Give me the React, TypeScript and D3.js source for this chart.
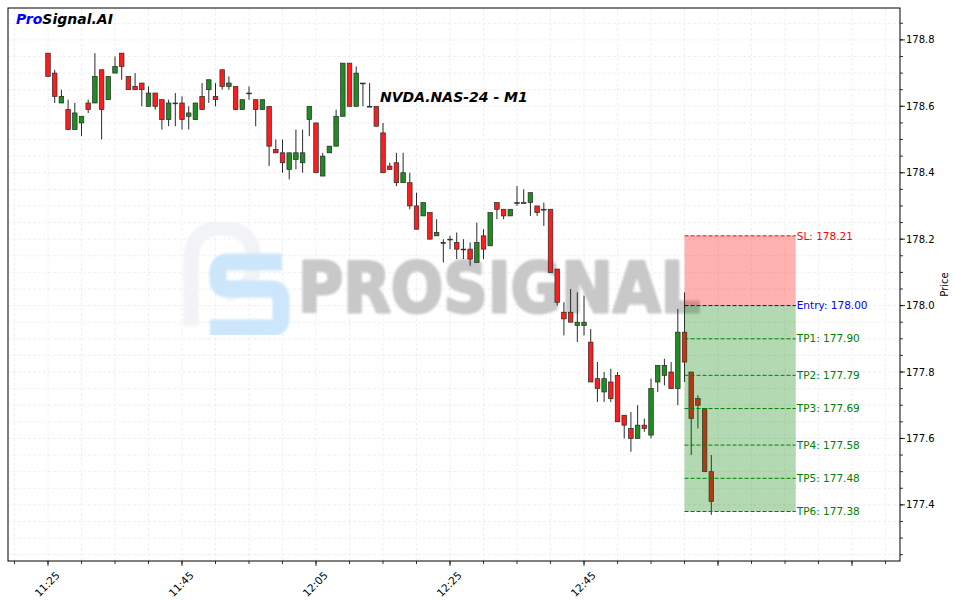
import React from "react";
import * as d3 from "d3";

const W = 956;
const H = 603;

// OHLC per minute starting 11:25
const opens = [178.76,178.70,178.61,178.59,178.53,178.55,178.61,178.61,178.71,178.62,178.70,178.76,178.69,178.66,178.67,178.60,178.64,178.62,178.56,178.61,178.61,178.57,178.56,178.63,178.65,178.63,178.71,178.66,178.66,178.59,178.64,178.62,178.59,178.60,178.47,178.46,178.41,178.44,178.43,178.56,178.55,178.39,178.46,178.48,178.57,178.73,178.60,178.67,178.60,178.60,178.52,178.42,178.43,178.37,178.37,178.30,178.27,178.28,178.21,178.19,178.20,178.19,178.17,178.17,178.13,178.21,178.18,178.31,178.29,178.27,178.31,178.31,178.31,178.30,178.29,178.29,178.11,177.98,177.98,177.94,177.94,177.89,177.78,177.74,177.77,177.79,177.67,177.63,177.60,177.64,177.61,177.77,177.79,177.80,177.75,177.92,177.80,177.72,177.69,177.50];
const highs = [178.76,178.71,178.65,178.62,178.61,178.57,178.62,178.76,178.71,178.69,178.75,178.76,178.69,178.70,178.67,178.66,178.64,178.62,178.62,178.64,178.63,178.60,178.61,178.67,178.68,178.67,178.71,178.69,178.66,178.62,178.66,178.62,178.62,178.60,178.50,178.50,178.46,178.53,178.53,178.60,178.55,178.46,178.48,178.59,178.73,178.73,178.72,178.67,178.67,178.60,178.55,178.43,178.46,178.46,178.40,178.34,178.31,178.28,178.26,178.20,178.21,178.22,178.20,178.19,178.25,178.23,178.28,178.31,178.29,178.29,178.36,178.35,178.34,178.30,178.31,178.29,178.11,178.01,178.05,178.04,178.03,177.93,177.83,177.80,177.81,177.80,177.67,177.68,177.70,177.66,177.78,177.82,177.84,177.83,177.99,178.04,177.80,177.73,177.69,177.55];
const lows = [178.69,178.61,178.61,178.53,178.53,178.51,178.58,178.61,178.50,178.62,178.70,178.68,178.65,178.65,178.60,178.60,178.59,178.53,178.54,178.54,178.53,178.53,178.56,178.59,178.61,178.60,178.65,178.65,178.59,178.59,178.62,178.54,178.59,178.42,178.46,178.40,178.38,178.41,178.40,178.51,178.40,178.39,178.46,178.48,178.57,178.60,178.60,178.60,178.60,178.54,178.40,178.41,178.36,178.37,178.29,178.23,178.27,178.20,178.21,178.13,178.17,178.14,178.14,178.12,178.13,178.14,178.18,178.26,178.26,178.27,178.30,178.31,178.27,178.27,178.24,178.10,178.00,177.91,177.95,177.89,177.91,177.77,177.71,177.71,177.71,177.65,177.60,177.56,177.60,177.62,177.60,177.74,177.76,177.75,177.70,177.77,177.55,177.63,177.50,177.37];
const closes = [178.69,178.63,178.63,178.53,178.58,178.57,178.59,178.69,178.59,178.69,178.72,178.72,178.65,178.65,178.65,178.64,178.60,178.56,178.61,178.61,178.56,178.58,178.61,178.59,178.68,178.62,178.66,178.67,178.59,178.62,178.64,178.59,178.62,178.48,178.46,178.43,178.46,178.46,178.46,178.60,178.40,178.45,178.48,178.57,178.73,178.60,178.70,178.67,178.60,178.54,178.40,178.41,178.37,178.40,178.30,178.23,178.31,178.20,178.22,178.19,178.20,178.17,178.17,178.14,178.19,178.17,178.28,178.29,178.27,178.29,178.31,178.31,178.34,178.28,178.29,178.10,178.01,177.96,177.95,177.95,177.95,177.77,177.75,177.78,177.72,177.65,177.64,177.60,177.64,177.63,177.75,177.82,177.82,177.75,177.92,177.83,177.66,177.70,177.50,177.41];

const yMajorTicks = [177.4, 177.6, 177.8, 178.0, 178.2, 178.4, 178.6, 178.8];
const xTickLabels = ["11:25", "11:45", "12:05", "12:25", "12:45"];

const title = "NVDA.NAS-24 - M1";
const entryIndex = 95;
const boxEndMinutes = 111.6;
const slLevel = { label: "SL", value: 178.21 };
const entryLevel = { label: "Entry", value: 178.0 };
const tpLevels = [
  { label: "TP1", value: 177.9 },
  { label: "TP2", value: 177.79 },
  { label: "TP3", value: 177.69 },
  { label: "TP4", value: 177.58 },
  { label: "TP5", value: 177.48 },
  { label: "TP6", value: 177.38 },
];

const start = new Date(2024, 0, 2, 11, 25, 0);
const minute = 60000;
const t = (m: number) => new Date(start.getTime() + m * minute);

export default function App() {
  const left = 8, right = 900, top = 8, bottom = 561;
  const x = d3.scaleTime().domain([t(-5.97), t(127.16)]).range([left, right]);
  const y = d3.scaleLinear().domain([177.231, 178.896]).range([bottom, top]);
  const fmt = d3.timeFormat("%H:%M");

  const minorX = d3.timeMinute.every(5)!.range(t(-5.97), t(127.16));
  const majorX = minorX.filter((d) => (d.getTime() - start.getTime()) % (20 * minute) === 0);
  const minorY = d3.range(177.25, 178.9, 0.05).filter((v) => v >= 177.231 && v <= 178.896);

  const step = x(t(1)) - x(t(0));
  const bw = step * 0.68;
  const font = "DejaVu Sans, sans-serif";

  const candles = opens.map((o, i) => ({ o, h: highs[i], l: lows[i], c: closes[i], d: t(i) }));

  const bx0 = x(t(entryIndex));
  const bx1 = x(t(boxEndMinutes));
  const tpMin = d3.min(tpLevels, (d) => d.value)!;

  const levelLines = [
    { ...slLevel, color: "#ff0000" },
    { ...entryLevel, color: "#0000ff" },
    ...tpLevels.map((d) => ({ ...d, color: "#008000" })),
  ];

  return (
    <svg width={W} height={H} style={{ position: "absolute", left: 0, top: 0, background: "#fff" }} fontFamily={font}>
      <rect x={0} y={0} width={W} height={H} fill="#fff" />
      <defs>
        <clipPath id="plot">
          <rect x={left} y={top} width={right - left} height={bottom - top} />
        </clipPath>
        <filter id="soft" x="-5%" y="-5%" width="110%" height="110%">
          <feGaussianBlur stdDeviation="0.8" />
        </filter>
      </defs>
      {/* grid */}
      <g stroke="#ececec" strokeDasharray="3,2" strokeWidth={0.8}>
        {minorX.map((d, i) => (
          <line key={"gx" + i} x1={x(d)} x2={x(d)} y1={top} y2={bottom} />
        ))}
        {minorY.map((v, i) => (
          <line key={"gy" + i} x1={left} x2={right} y1={y(v)} y2={y(v)} />
        ))}
      </g>
      {/* watermark */}
      <g clipPath="url(#plot)" filter="url(#soft)">
        <path d="M191 326 L191 262 Q191 228 222 228 Q254 228 254 262 Q254 290 226 294" fill="none" stroke="#f1f3f6" strokeWidth={15} />
        <path d="M282 262 H228 Q218 262 218 272 V279 Q218 289 228 289 H271 Q281 289 281 299 V318 Q281 328 271 328 H210" fill="none" stroke="#cce6fb" strokeWidth={17} />
        <text x={298} y={312} fontSize={70} fontWeight="bold" fill="#c8c8c8" stroke="#c8c8c8" strokeWidth={3} strokeLinejoin="round" textLength={402} lengthAdjust="spacingAndGlyphs" fontFamily="DejaVu Sans, sans-serif">PROSIGNAL</text>
      </g>
      {/* candles */}
      <g>
        {candles.map((k, i) => {
          const cx = x(k.d);
          const up = k.c >= k.o;
          const y0 = y(Math.max(k.o, k.c));
          const y1 = y(Math.min(k.o, k.c));
          return (
            <g key={i}>
              <line x1={cx} x2={cx} y1={y(k.h)} y2={y(k.l)} stroke="#2a2a2a" strokeWidth={1} />
              <rect x={cx - bw / 2} y={y0} width={bw} height={Math.max(y1 - y0, 0.8)} fill={up ? "#1e8c1e" : "#ff1c1c"} stroke="#2a2a2a" strokeWidth={0.7} />
            </g>
          );
        })}
      </g>
      {/* trade boxes */}
      <rect x={bx0} y={y(slLevel.value)} width={bx1 - bx0} height={y(entryLevel.value) - y(slLevel.value)} fill="#ff0000" opacity={0.3} />
      <rect x={bx0} y={y(entryLevel.value)} width={bx1 - bx0} height={y(tpMin) - y(entryLevel.value)} fill="#008000" opacity={0.3} />
      {levelLines.map((l, i) => (
        <g key={"lv" + i}>
          <line x1={bx0} x2={bx1} y1={y(l.value)} y2={y(l.value)} stroke={l.color} strokeWidth={1} strokeDasharray="4,2" />
          <text x={bx1 + 1} y={y(l.value)} dy="0.35em" fontSize={10.5} fill={l.color}>
            {l.label}: {l.value.toFixed(2)}
          </text>
        </g>
      ))}
      {/* title & logo */}
      <text x={380} y={102} fontSize={14} fontWeight="bold" fontStyle="italic" fill="#000">{title}</text>
      <text x={16} y={24} fontSize={14} fontWeight="bold" fontStyle="italic">
        <tspan fill="#0000ff">Pro</tspan>
        <tspan fill="#000">Signal.AI</tspan>
      </text>
      {/* frame */}
      <rect x={left} y={top} width={right - left} height={bottom - top} fill="none" stroke="#000" strokeWidth={1} />
      {/* x axis ticks */}
      <g stroke="#000" strokeWidth={0.8}>
        {minorX.map((d, i) => (
          <line key={"tx" + i} x1={x(d)} x2={x(d)} y1={bottom} y2={bottom + 3} />
        ))}
        {majorX.map((d, i) => (
          <line key={"TX" + i} x1={x(d)} x2={x(d)} y1={bottom} y2={bottom + 5} />
        ))}
      </g>
      {majorX
        .filter((d) => xTickLabels.includes(fmt(d)))
        .map((d, i) => (
          <text key={"lx" + i} transform={`translate(${x(d) - 1},${584}) rotate(-45)`} textAnchor="middle" dominantBaseline="central" fontSize={10.5} fill="#000">
            {fmt(d)}
          </text>
        ))}
      {/* y axis */}
      <g stroke="#000" strokeWidth={0.8}>
        {minorY.map((v, i) => (
          <line key={"ty" + i} x1={right} x2={right + 3} y1={y(v)} y2={y(v)} />
        ))}
        {yMajorTicks.map((v, i) => (
          <line key={"TY" + i} x1={right} x2={right + 5} y1={y(v)} y2={y(v)} />
        ))}
      </g>
      {yMajorTicks.map((v, i) => (
        <text key={"ly" + i} x={906} y={y(v)} dy="0.35em" fontSize={10} fill="#000">
          {v.toFixed(1)}
        </text>
      ))}
      <text transform={`translate(948,${(top + bottom) / 2}) rotate(-90)`} textAnchor="middle" fontSize={10} fill="#000">Price</text>
    </svg>
  );
}
